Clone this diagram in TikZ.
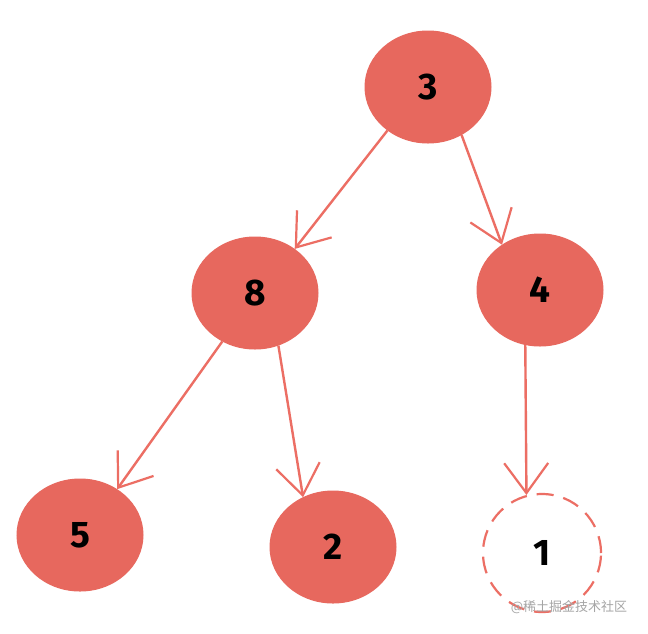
\documentclass[tikz,border=0pt]{standalone}
\usepackage{fontspec}
\setmainfont{Fira Sans}
\newfontfamily\cjk{Noto Sans CJK SC}
\usetikzlibrary{arrows.meta,shapes.geometric}
\definecolor{nodered}{RGB}{231,104,94}
\definecolor{edgered}{RGB}{236,110,100}
\definecolor{wmgray}{RGB}{165,165,165}
\tikzset{
  tnode/.style={ellipse,fill=nodered,draw=nodered,line width=1pt,minimum width=126pt,minimum height=112pt,inner sep=0pt,font=\fontsize{37}{37}\selectfont\bfseries},
  emptynode/.style={circle,draw=edgered,dash pattern=on 17pt off 10pt,line width=2.2pt,minimum size=118pt,inner sep=0pt,font=\fontsize{37}{37}\selectfont\bfseries},
  edge/.style={draw=edgered,line width=2.4pt,-{Straight Barb[length=30pt,width=44pt,line width=2.2pt]}}
}
\begin{document}
\begin{tikzpicture}[x=1pt,y=-1pt]
\useasboundingbox[fill=white] (0,0) rectangle (648,633);
\node[tnode] (n3) at (428,87) {3};
\node[tnode] (n8) at (255,293) {8};
\node[tnode] (n4) at (540,290) {4};
\node[tnode] (n5) at (80,535) {5};
\node[tnode] (n2) at (333,547) {2};
\node[emptynode] (n1) at (542,553) {1};
\draw[edge] (n3.-133) -- (n8.48);
\draw[edge] (n3.-55) -- (n4.130);
\draw[edge] (n8.-124) -- (n5.51);
\draw[edge] (n8.-66) -- (n2.121);
\draw[edge] (n4.-105) -- (n1.105);
\node[text=wmgray,font=\cjk\fontsize{13}{13}\selectfont] (wm) at (569,607) {@稀土掘金技术社区};
\end{tikzpicture}
\end{document}
